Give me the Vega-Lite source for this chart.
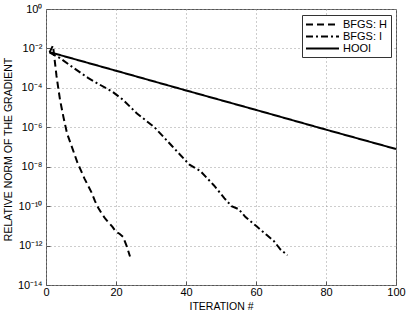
{
  "$schema": "https://vega.github.io/schema/vega-lite/v6.json",
  "autosize": "none",
  "padding": {"left": 46, "top": 9, "right": 11, "bottom": 27},
  "width": 350,
  "height": 276,
  "background": "white",
  "config": {
    "view": {"stroke": "#555", "strokeWidth": 1},
    "font": "Liberation Sans",
    "axis": {
      "labelFont": "Liberation Sans",
      "titleFont": "Liberation Sans",
      "labelColor": "black",
      "titleColor": "black",
      "labelFontSize": 11,
      "titleFontSize": 10.5,
      "titleFontWeight": "normal",
      "domain": false,
      "grid": true,
      "gridColor": "#9a9a9a",
      "gridDash": [1, 3],
      "gridWidth": 1,
      "tickColor": "#555",
      "tickSize": -4
    }
  },
  "data": {
    "values": [
      {"series": "BFGS: H", "iter": 1, "value": 6.3e-3},
      {"series": "BFGS: H", "iter": 2, "value": 1.4e-2},
      {"series": "BFGS: H", "iter": 3, "value": 4.0e-4},
      {"series": "BFGS: H", "iter": 4, "value": 2.5e-5},
      {"series": "BFGS: H", "iter": 5, "value": 3.2e-6},
      {"series": "BFGS: H", "iter": 6, "value": 5.0e-7},
      {"series": "BFGS: H", "iter": 7, "value": 1.58e-7},
      {"series": "BFGS: H", "iter": 8, "value": 5.0e-8},
      {"series": "BFGS: H", "iter": 9, "value": 1.58e-8},
      {"series": "BFGS: H", "iter": 10, "value": 6.3e-9},
      {"series": "BFGS: H", "iter": 11, "value": 2.5e-9},
      {"series": "BFGS: H", "iter": 12, "value": 1.12e-9},
      {"series": "BFGS: H", "iter": 13, "value": 5.0e-10},
      {"series": "BFGS: H", "iter": 14, "value": 1.78e-10},
      {"series": "BFGS: H", "iter": 15, "value": 7.9e-11},
      {"series": "BFGS: H", "iter": 16, "value": 4.0e-11},
      {"series": "BFGS: H", "iter": 17, "value": 2.24e-11},
      {"series": "BFGS: H", "iter": 18, "value": 1.41e-11},
      {"series": "BFGS: H", "iter": 19, "value": 8.9e-12},
      {"series": "BFGS: H", "iter": 20, "value": 5.0e-12},
      {"series": "BFGS: H", "iter": 21, "value": 4.0e-12},
      {"series": "BFGS: H", "iter": 22, "value": 2.8e-12},
      {"series": "BFGS: H", "iter": 23, "value": 1.0e-12},
      {"series": "BFGS: H", "iter": 24, "value": 2.8e-13},
      {"series": "BFGS: I", "iter": 1, "value": 6.3e-3},
      {"series": "BFGS: I", "iter": 4, "value": 3.2e-3},
      {"series": "BFGS: I", "iter": 8, "value": 1.0e-3},
      {"series": "BFGS: I", "iter": 12, "value": 3.2e-4},
      {"series": "BFGS: I", "iter": 15, "value": 1.58e-4},
      {"series": "BFGS: I", "iter": 19, "value": 6.3e-5},
      {"series": "BFGS: I", "iter": 22, "value": 2.5e-5},
      {"series": "BFGS: I", "iter": 26, "value": 5.0e-6},
      {"series": "BFGS: I", "iter": 31, "value": 1.0e-6},
      {"series": "BFGS: I", "iter": 36, "value": 1.12e-7},
      {"series": "BFGS: I", "iter": 41, "value": 1.26e-8},
      {"series": "BFGS: I", "iter": 44, "value": 6.3e-9},
      {"series": "BFGS: I", "iter": 48, "value": 1.12e-9},
      {"series": "BFGS: I", "iter": 51, "value": 2.5e-10},
      {"series": "BFGS: I", "iter": 53, "value": 1.0e-10},
      {"series": "BFGS: I", "iter": 55, "value": 7.1e-11},
      {"series": "BFGS: I", "iter": 57, "value": 2.8e-11},
      {"series": "BFGS: I", "iter": 60, "value": 1.0e-11},
      {"series": "BFGS: I", "iter": 63, "value": 3.5e-12},
      {"series": "BFGS: I", "iter": 65, "value": 1.78e-12},
      {"series": "BFGS: I", "iter": 67, "value": 6.3e-13},
      {"series": "BFGS: I", "iter": 69, "value": 3.2e-13},
      {"series": "HOOI", "iter": 1, "value": 6.5e-3},
      {"series": "HOOI", "iter": 20, "value": 7.4e-4},
      {"series": "HOOI", "iter": 40, "value": 7.4e-5},
      {"series": "HOOI", "iter": 60, "value": 7.6e-6},
      {"series": "HOOI", "iter": 80, "value": 7.6e-7},
      {"series": "HOOI", "iter": 100, "value": 7.9e-8}
    ]
  },
  "mark": {"type": "line", "color": "black", "strokeWidth": 2, "clip": true},
  "encoding": {
    "x": {
      "field": "iter",
      "type": "quantitative",
      "scale": {"domain": [0, 100], "nice": false, "zero": false},
      "axis": {
        "title": "ITERATION #",
        "values": [0, 20, 40, 60, 80, 100],
        "labelPadding": 5,
        "titleY": 16,
        "titleBaseline": "top",
        "labelFlush": false
      }
    },
    "y": {
      "field": "value",
      "type": "quantitative",
      "scale": {"type": "log", "domain": [1e-14, 1], "nice": false},
      "axis": {
        "title": "RELATIVE NORM OF THE GRADIENT",
        "values": [1, 1e-2, 1e-4, 1e-6, 1e-8, 1e-10, 1e-12, 1e-14],
        "labelExpr": "['10⁰','10⁻²','10⁻⁴','10⁻⁶','10⁻⁸','10⁻¹⁰','10⁻¹²','10⁻¹⁴'][round(-log(datum.value)/LN10/2)]",
        "labelPadding": 8,
        "labelFlush": false,
        "titleX": -33,
        "titleY": 140,
        "titleAngle": -90,
        "titleBaseline": "bottom",
        "titleAlign": "center"
      }
    },
    "strokeDash": {
      "field": "series",
      "type": "nominal",
      "scale": {"domain": ["BFGS: H", "BFGS: I", "HOOI"], "range": [[7, 4], [7, 3, 2, 3], [1, 0]]},
      "legend": {
        "title": null,
        "orient": "none",
        "legendX": 256,
        "legendY": 6,
        "symbolType": "M-1,0H5",
        "symbolSize": 121,
        "symbolStrokeWidth": 2,
        "symbolStrokeColor": "black",
        "labelFont": "Liberation Sans",
        "labelFontSize": 11,
        "labelColor": "black",
        "labelOffset": 25,
        "strokeColor": "#333",
        "fillColor": "white",
        "padding": 3,
        "rowPadding": 0
      }
    }
  }
}
